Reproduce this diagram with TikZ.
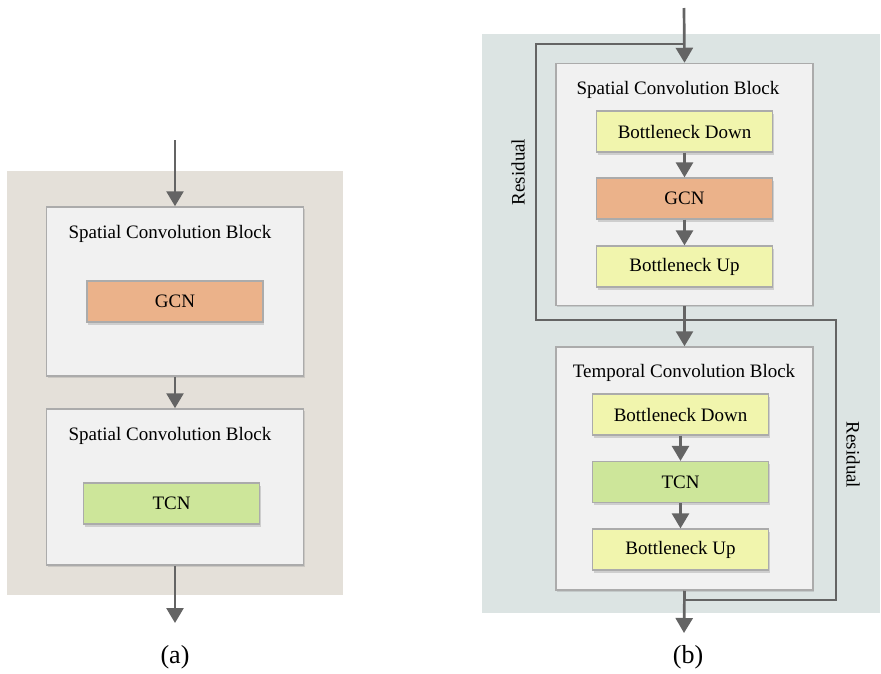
\documentclass[tikz,border=0pt]{standalone}
\usepackage{fontspec}
\setmainfont{Liberation Serif}
\usetikzlibrary{arrows.meta,shadows}
\definecolor{bgA}{HTML}{E4E0D9}
\definecolor{bgB}{HTML}{DCE4E3}
\definecolor{blkfill}{HTML}{F1F1F1}
\definecolor{blkdraw}{HTML}{ABABAB}
\definecolor{linec}{HTML}{646464}
\definecolor{yel}{HTML}{F1F5AD}
\definecolor{gcnc}{HTML}{EBB28A}
\definecolor{tcnc}{HTML}{CDE69A}
\tikzset{
  blk/.style={draw=blkdraw,line width=1.5pt,fill=blkfill,inner sep=0pt,
    minimum width=257pt,drop shadow={shadow xshift=1pt,shadow yshift=-1.5pt,opacity=0.25,fill=gray}},
  inbox/.style={draw=blkdraw,line width=1.2pt,inner sep=0pt,minimum width=176pt,minimum height=41pt,
    font=\fontsize{19}{22}\selectfont,drop shadow={shadow xshift=1pt,shadow yshift=-2.5pt,opacity=0.3,fill=gray}},
  title/.style={inner sep=0pt,font=\fontsize{19}{22}\selectfont},
  conn/.style={draw=linec,line width=2.7pt},
  arr/.style={conn,-{Triangle[width=17pt,length=15pt]}},
  lbl/.style={inner sep=0pt,font=\fontsize{26}{30}\selectfont}
}
\begin{document}
\begin{tikzpicture}[x=1pt,y=-1pt]
\useasboundingbox (0,0) rectangle (881,673);
\fill[white] (0,0) rectangle (881,673);
% backgrounds
\fill[bgA] (7,171) rectangle (343,595);
\fill[bgB] (482,34) rectangle (880,613);
% ---------- (a) ----------
\node[blk,minimum height=169pt] (a1) at (175,291.5) {};
\node[title] (a1t) at (170,234) {Spatial Convolution Block};
\node[inbox,fill=gcnc] (agcn) at (175,301.5) {GCN};
\node[blk,minimum height=156pt] (a2) at (175,487) {};
\node[title] (a2t) at (170,436) {Spatial Convolution Block};
\node[inbox,fill=tcnc] (atcn) at (171.5,503.5) {TCN};
\coordinate (ain) at (175,140);
\coordinate (aout) at (175,623);
\draw[arr] (ain) -- (a1.north);
\draw[arr] (a1.south) -- (a2.north);
\draw[arr] (a2.south) -- (aout);
\node[lbl] (la) at (175,657) {(a)};
% ---------- (b) ----------
\coordinate (bin) at (684,8);
\coordinate (bsplit) at (684,44);
\coordinate (r1a) at (536,44);
\coordinate (r1b) at (536,320);
\coordinate (bjoin1) at (684,320);
\coordinate (r2a) at (836,320);
\coordinate (r2b) at (836,600);
\coordinate (bjoin2) at (684,600);
\coordinate (bout) at (684,633);
\draw[conn] (bsplit) -- (r1a) -- (r1b) -- (bjoin1);
\draw[conn] (bjoin1) -- (r2a) -- (r2b) -- (bjoin2);
\node[blk,minimum height=242pt] (b1) at (684.5,184.5) {};
\node[title] (b1t) at (678,90) {Spatial Convolution Block};
\node[inbox,fill=yel] (b1d) at (684.5,131.5) {Bottleneck Down};
\node[inbox,fill=gcnc] (b1g) at (684.5,198.5) {GCN};
\node[inbox,fill=yel] (b1u) at (684.5,266.5) {Bottleneck Up};
\draw[arr] (b1d) -- (b1g);
\draw[arr] (b1g) -- (b1u);
\node[blk,minimum height=243pt] (b2) at (684.5,468.5) {};
\node[title] (b2t) at (684,373) {Temporal Convolution Block};
\node[inbox,fill=yel] (b2d) at (680.5,414.5) {Bottleneck Down};
\node[inbox,fill=tcnc] (b2c) at (680.5,482) {TCN};
\node[inbox,fill=yel] (b2u) at (680.5,549.5) {Bottleneck Up};
\draw[arr] (b2d) -- (b2c);
\draw[arr] (b2c) -- (b2u);
\draw[arr] (bin) -- (b1.north);
\draw[arr] (b1.south) -- (b2.north);
\draw[arr] (b2.south) -- (bout);
\node[title,rotate=90] (res1) at (518,172) {Residual};
\node[title,rotate=-90] (res2) at (853,455) {Residual};
\node[lbl] (lb) at (688,657) {(b)};
\end{tikzpicture}
\end{document}
